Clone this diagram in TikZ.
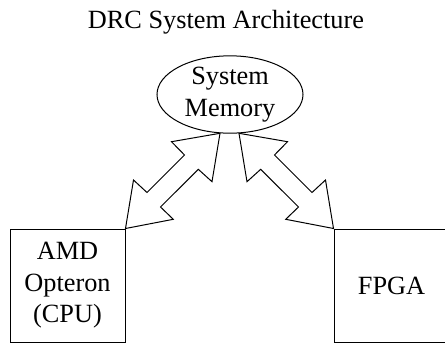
\documentclass[tikz,border=0pt]{standalone}
\usepackage{fontspec}
\setmainfont{Liberation Serif}
\usetikzlibrary{shapes.geometric}
\begin{document}
\begin{tikzpicture}[x=1pt,y=-1pt, line width=1pt,
  lbl/.style={font=\fontsize{26.3}{31.6}\selectfont, align=center, inner sep=0pt},
  unit/.style={lbl, draw, rectangle, minimum width=115pt, minimum height=113pt},
  mem/.style={lbl, draw, ellipse, minimum width=146pt, minimum height=75pt},
  bigarrow/.style={draw, line join=miter}]
\useasboundingbox (0,0) rectangle (445,343);
\clip (0,0) rectangle (445,343);
\node[lbl, anchor=base] (title) at (226,28) {DRC System Architecture};
\node[mem] (memory) at (230,94.5) {System\\Memory};
\node[unit] (cpu) at (67.5,285.5) {AMD\\Opteron\\(CPU)};
\node[unit] (fpga) at (391.5,285.5) {FPGA};
% left double arrow: CPU <-> memory
\draw[bigarrow] (cpu.north east) -- (133.5,180) -- (147,192.5) -- (184.5,155)
  -- (171.5,141.7) -- (220,133.3) -- (212,181.7) -- (198.3,169.3)
  -- (160.5,207) -- (173.3,219.3) -- cycle;
% right double arrow: memory <-> FPGA
\draw[bigarrow] (fpga.north west) -- (325.5,180) -- (312,192.5) -- (274.5,155)
  -- (287.5,141.7) -- (239,133.3) -- (247,181.7) -- (260.7,169.3)
  -- (298.5,207) -- (285.7,219.3) -- cycle;
\end{tikzpicture}
\end{document}
